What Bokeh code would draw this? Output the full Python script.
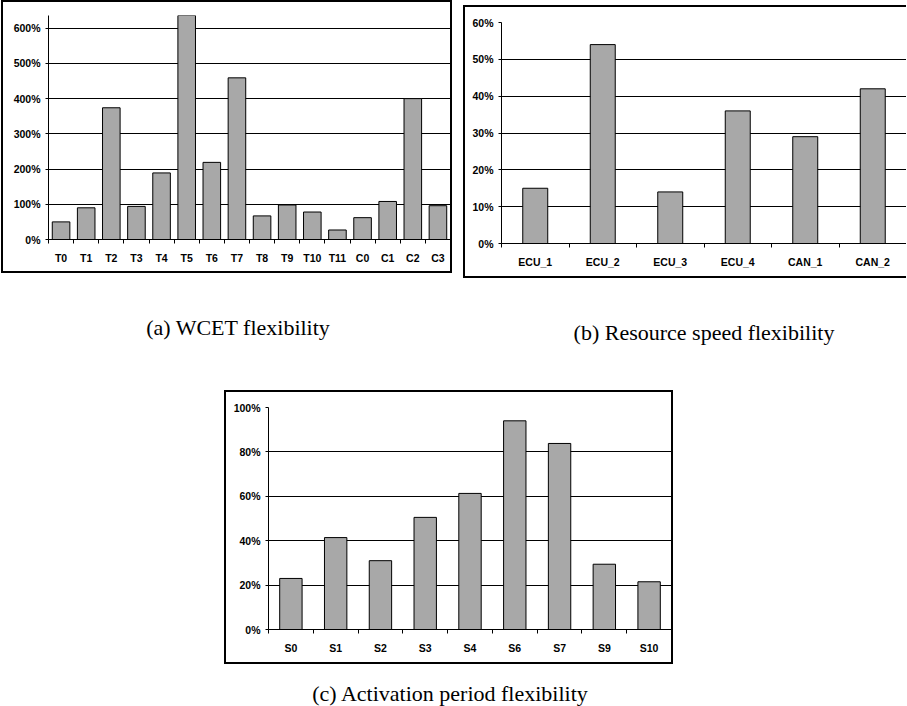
from bokeh.plotting import figure
from bokeh.models import FixedTicker, PrintfTickFormatter, Range1d, Div, Spacer
from bokeh.layouts import column, row
from bokeh.embed import file_html
from bokeh.resources import INLINE

# ---------------- data ----------------
wcet_tasks = ["T0", "T1", "T2", "T3", "T4", "T5", "T6", "T7", "T8", "T9",
              "T10", "T11", "C0", "C1", "C2", "C3"]
wcet_values = [50, 90, 374, 94, 189, 650, 219, 459, 67, 98, 78, 27, 62, 108, 400, 96]
wcet_ticks = [0, 100, 200, 300, 400, 500, 600]

speed_resources = ["ECU_1", "ECU_2", "ECU_3", "ECU_4", "CAN_1", "CAN_2"]
speed_values = [15, 54, 14, 36, 29, 42]
speed_ticks = [0, 10, 20, 30, 40, 50, 60]

period_streams = ["S0", "S1", "S2", "S3", "S4", "S6", "S7", "S9", "S10"]
period_values = [23, 41.4, 31, 50.5, 61.3, 94, 83.8, 29.4, 21.5]
period_ticks = [0, 20, 40, 60, 80, 100]

captions = ["(a) WCET flexibility", "(b) Resource speed flexibility",
            "(c) Activation period flexibility"]

BAR = "#a8a8a8"
LAB_FONT = "Liberation Sans"
FULL_BORDER = {"border": "2px solid black", "box-sizing": "border-box"}
OPEN_BORDER = {"border-top": "2px solid black", "border-left": "2px solid black",
               "border-bottom": "2px solid black", "box-sizing": "border-box"}


def make_chart(names, vals, yticks, ymax, bar_w, w, h, ml, mt, mr, mb, styles):
    n = len(names)
    xs = list(range(n))
    p = figure(width=w, height=h, x_range=Range1d(-0.5, n - 0.5),
               y_range=Range1d(0, ymax), output_backend="svg",
               toolbar_location=None, min_border_left=ml, min_border_top=mt,
               min_border_right=mr, min_border_bottom=mb, styles=styles)
    p.vbar(x=xs, top=vals, bottom=0, width=bar_w, fill_color=BAR,
           line_color="black", line_width=1)
    p.outline_line_color = None
    p.xgrid.grid_line_color = None
    p.ygrid.grid_line_color = "black"
    p.ygrid.grid_line_width = 1
    p.ygrid.ticker = FixedTicker(ticks=yticks)

    xa = p.xaxis[0]
    xa.ticker = FixedTicker(ticks=xs, minor_ticks=[i - 0.5 for i in range(n + 1)])
    xa.major_label_overrides = {i: s for i, s in enumerate(names)}
    xa.major_tick_line_color = None
    xa.major_tick_out = 0
    xa.major_tick_in = 0
    xa.minor_tick_line_color = "black"
    xa.minor_tick_out = 4
    xa.minor_tick_in = 0
    xa.axis_line_color = "black"
    xa.major_label_standoff = 8
    xa.major_label_text_font = LAB_FONT
    xa.major_label_text_font_style = "bold"
    xa.major_label_text_font_size = "10.5px"
    xa.major_label_text_color = "black"

    ya = p.yaxis[0]
    ya.ticker = FixedTicker(ticks=yticks)
    ya.formatter = PrintfTickFormatter(format="%d%%")
    ya.major_tick_out = 3
    ya.major_tick_in = 0
    ya.minor_tick_line_color = None
    ya.major_tick_line_color = "black"
    ya.axis_line_color = "black"
    ya.major_label_standoff = 5
    ya.major_label_text_font = LAB_FONT
    ya.major_label_text_font_style = "bold"
    ya.major_label_text_font_size = "10.5px"
    ya.major_label_text_color = "black"
    return p


def caption(text, w):
    return Div(text=text, width=w, height=24,
               styles={"font-family": "'Liberation Serif', 'Times New Roman', serif",
                       "font-size": "22px",
                       "line-height": "24px", "text-align": "center",
                       "color": "black"})


pa = make_chart(wcet_tasks, wcet_values, wcet_ticks, 636, 0.7,
                451, 273, 45, 13, 4, 36, FULL_BORDER)
pb = make_chart(speed_resources, speed_values, speed_ticks, 60, 0.37,
                443, 273, 36, 15, 2, 37, OPEN_BORDER)
pc = make_chart(period_streams, period_values, period_ticks, 100, 0.5,
                449, 274, 42, 15, 4, 37, FULL_BORDER)

row1 = row(pa, Spacer(width=11), column(Spacer(height=5), pb))
row2 = row(column(Spacer(height=33), caption(captions[0], 464)),
           Spacer(width=8),
           column(Spacer(height=38), caption(captions[1], 432)))
row3 = row(Spacer(width=223), pc)
layout = column(row1, row2, Spacer(height=40), row3, Spacer(height=13),
                caption(captions[2], 888),
                styles={"margin-left": "1px", "margin-top": "0px"})

open("out.html", "w").write(file_html(layout, INLINE))
